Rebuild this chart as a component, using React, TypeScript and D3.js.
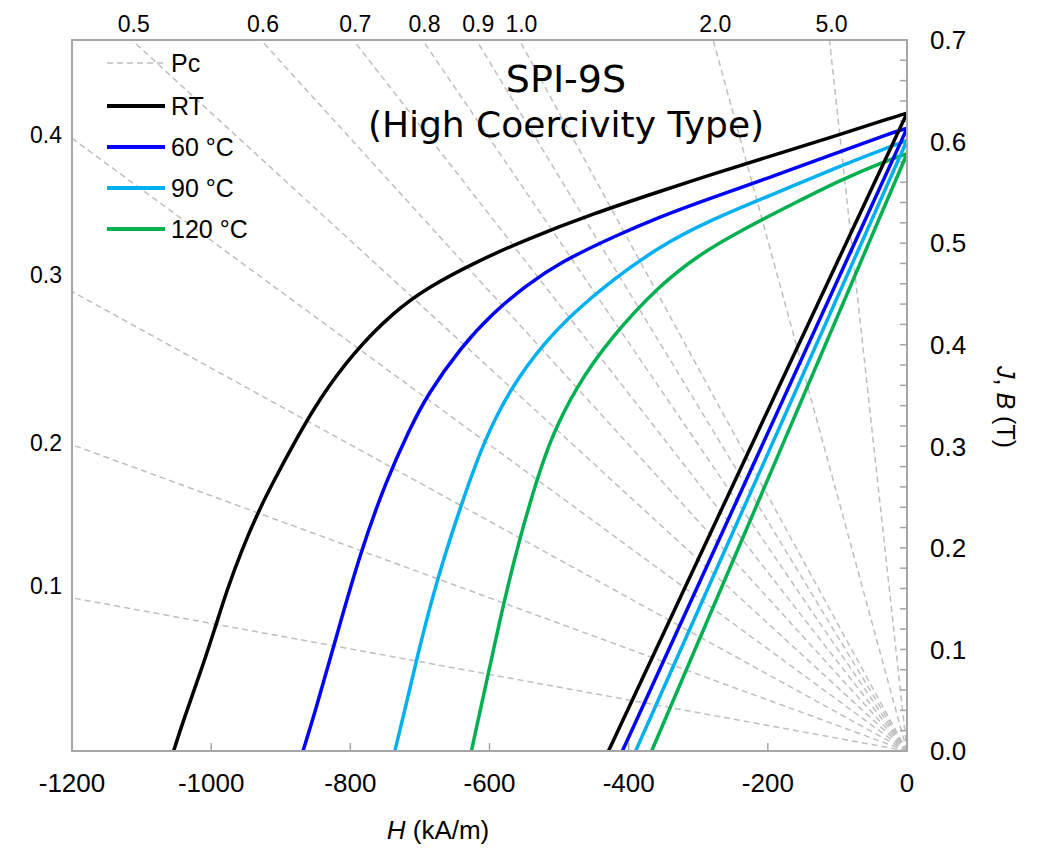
import React from "react";
import * as d3 from "d3";

// ---------- data ----------
const xTicks = [-1200, -1000, -800, -600, -400, -200, 0];
const yTicks = [0, 0.1, 0.2, 0.3, 0.4, 0.5, 0.6, 0.7];
const yMinorTicks = d3.range(0, 0.7001, 0.02);

const pcValues = [0.1, 0.2, 0.3, 0.4, 0.5, 0.6, 0.7, 0.8, 0.9, 1.0, 2.0, 5.0];
const pcTopLabels = [0.5, 0.6, 0.7, 0.8, 0.9, 1.0, 2.0, 5.0];
const pcLeftLabels = ["0.1", "0.2", "0.3", "0.4"];
const pcLeftLabelB = [0.163, 0.303, 0.469, 0.607];

const seriesNames = ["RT", "60 °C", "90 °C", "120 °C"];
const seriesColors = ["#000000", "#0000FF", "#00B0F0", "#00B050"];

// intrinsic J curves: [H (kA/m), J (T)]
const jRT: [number, number][] = [
  [-1054, 0], [-1040, 0.03], [-1011, 0.086], [-994, 0.122], [-978, 0.157], [-956, 0.198],
  [-932, 0.236], [-910, 0.266], [-877, 0.308], [-844, 0.347], [-796, 0.392],
  [-738, 0.432], [-690, 0.456], [-618, 0.482], [-546, 0.504], [-451, 0.529],
  [-355, 0.551], [-288, 0.566], [-200, 0.585], [-96, 0.607], [-20, 0.624], [0, 0.628],
];
const j60: [number, number][] = [
  [-868, 0], [-850, 0.04], [-824, 0.103], [-786, 0.195], [-748, 0.267], [-714, 0.318],
  [-690, 0.35], [-642, 0.397], [-594, 0.432], [-546, 0.459], [-499, 0.481],
  [-420, 0.507], [-355, 0.526], [-288, 0.543], [-200, 0.564], [-96, 0.59], [-20, 0.609], [0, 0.613],
];
const j90: [number, number][] = [
  [-736, 0], [-720, 0.045], [-705, 0.09], [-676, 0.168], [-642, 0.24], [-609, 0.304],
  [-570, 0.357], [-523, 0.401], [-475, 0.434], [-427, 0.462], [-355, 0.497],
  [-288, 0.521], [-200, 0.546], [-96, 0.576], [-20, 0.596], [0, 0.601],
];
const j120: [number, number][] = [
  [-626, 0], [-614, 0.038], [-602, 0.075], [-580, 0.145], [-556, 0.211], [-532, 0.267],
  [-510, 0.311], [-475, 0.359], [-427, 0.406], [-355, 0.459], [-300, 0.488],
  [-240, 0.512], [-160, 0.54], [-96, 0.562], [-34, 0.58], [0, 0.588],
];
// normal B lines: [H, B]
const bRT: [number, number][] = [[-429, 0], [0, 0.628]];
const b60: [number, number][] = [[-409, 0], [0, 0.613]];
const b90: [number, number][] = [[-390, 0], [0, 0.601]];
const b120: [number, number][] = [[-367, 0], [0, 0.588]];

const jSeries = [jRT, j60, j90, j120];
const bSeries = [bRT, b60, b90, b120];

// ---------- layout ----------
const W = 1040;
const HGT = 862;
const X0 = 72, X1 = 907, Y0 = 40, Y1 = 751;
const MU0 = 4 * Math.PI * 1e-7;
const FONT = "'Liberation Sans', Arial, sans-serif";
const GRID = "#BFBFBF";
const AXIS = "#A6A6A6";

const x = d3.scaleLinear().domain([-1200, 0]).range([X0, X1]);
const y = d3.scaleLinear().domain([0, 0.7]).range([Y1, Y0]);

const line = d3
  .line<[number, number]>()
  .x((d) => x(d[0]))
  .y((d) => y(d[1]))
  .curve(d3.curveBasis);
const straight = d3
  .line<[number, number]>()
  .x((d) => x(d[0]))
  .y((d) => y(d[1]));

const pcB = (pc: number, h: number) => pc * MU0 * Math.abs(h) * 1000;
const pcHatTop = (pc: number) => -0.7 / (pc * MU0 * 1000);

export default function App() {
  const order = [3, 2, 1, 0];
  return (
    <svg
      width={W}
      height={HGT}
      style={{ position: "absolute", left: 0, top: 0, background: "#fff" }}
      fontFamily={FONT}
    >
      <defs>
        <clipPath id="plot">
          <rect x={X0} y={Y0} width={X1 - X0} height={Y1 - Y0} />
        </clipPath>
      </defs>
      <rect x={0} y={0} width={W} height={HGT} fill="#fff" />

      {/* Pc load lines */}
      <g clipPath="url(#plot)">
        {pcValues.map((pc) => {
          const hEnd = -1200;
          return (
            <path
              key={pc}
              d={straight([
                [0, 0],
                [hEnd, pcB(pc, hEnd)],
              ]) as string}
              fill="none"
              stroke={GRID}
              strokeWidth={1.5}
              strokeDasharray="6,4"
            />
          );
        })}
      </g>

      {/* ticks */}
      {xTicks.map((t) => (
        <line key={t} x1={x(t)} x2={x(t)} y1={Y1} y2={Y1 - 8} stroke={AXIS} strokeWidth={1.5} />
      ))}
      {yMinorTicks.map((t, i) => (
        <line key={i} x1={X1} x2={X1 - 7} y1={y(t)} y2={y(t)} stroke={AXIS} strokeWidth={1.5} />
      ))}

      {/* curves */}
      <g clipPath="url(#plot)">
        {order.map((i) => (
          <g key={i}>
            <path d={line(jSeries[i]) as string} fill="none" stroke={seriesColors[i]} strokeWidth={3.5} strokeLinejoin="round" />
            <path d={straight(bSeries[i]) as string} fill="none" stroke={seriesColors[i]} strokeWidth={3.5} />
          </g>
        ))}
      </g>

      {/* border */}
      <rect x={X0} y={Y0} width={X1 - X0} height={Y1 - Y0} fill="none" stroke={AXIS} strokeWidth={2} />

      {/* bottom tick labels */}
      {xTicks.map((t) => (
        <text key={t} x={x(t)} y={792} fontSize={26} textAnchor="middle" fill="#000">
          {t}
        </text>
      ))}
      {/* right tick labels */}
      {yTicks.map((t) => (
        <text key={t} x={930} y={y(t) + 9.3} fontSize={26} fill="#000">
          {t.toFixed(1)}
        </text>
      ))}

      {/* Pc labels top */}
      {pcTopLabels.map((pc) => (
        <text key={pc} x={x(pcHatTop(pc)) + 2} y={32} fontSize={23} textAnchor="middle" fill="#000">
          {pc.toFixed(1)}
        </text>
      ))}
      {/* Pc labels left */}
      {pcLeftLabels.map((s, i) => (
        <text key={s} x={62} y={y(pcLeftLabelB[i]) + 8.2} fontSize={23} textAnchor="end" fill="#000">
          {s}
        </text>
      ))}

      {/* axis titles */}
      <text x={438} y={839} fontSize={26} textAnchor="middle" fill="#000">
        <tspan fontStyle="italic">H</tspan> (kA/m)
      </text>
      <text transform="translate(997,407) rotate(90)" fontSize={25} textAnchor="middle" fill="#000">
        <tspan fontStyle="italic">J</tspan>, <tspan fontStyle="italic">B</tspan> (T)
      </text>

      {/* title */}
      <text x={566} y={92} fontSize={38} textAnchor="middle" fontFamily="'DejaVu Sans', sans-serif" fill="#000">
        SPI-9S
      </text>
      <text x={566} y={137} fontSize={36} textAnchor="middle" fontFamily="'DejaVu Sans', sans-serif" fill="#000">
        (High Coercivity Type)
      </text>

      {/* legend */}
      <g>
        <line x1={107} x2={165} y1={63} y2={63} stroke={GRID} strokeWidth={1.5} strokeDasharray="6,4" />
        <text x={171} y={72} fontSize={25} fill="#000">Pc</text>
        {seriesNames.map((n, i) => {
          const ly = 106 + i * 41;
          return (
            <g key={n}>
              <line x1={107} x2={165} y1={ly} y2={ly} stroke={seriesColors[i]} strokeWidth={4} />
              <text x={171} y={ly + 9} fontSize={25} fill="#000">
                {n}
              </text>
            </g>
          );
        })}
      </g>
    </svg>
  );
}
